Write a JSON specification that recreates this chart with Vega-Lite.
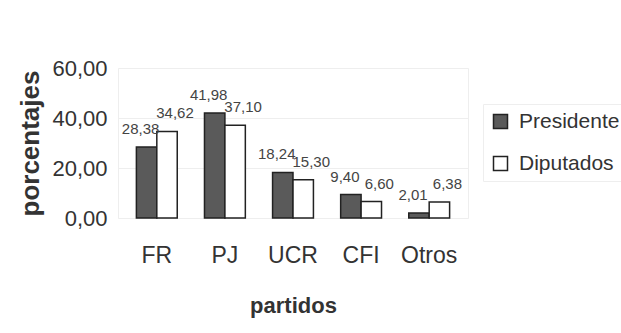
{
  "$schema": "https://vega.github.io/schema/vega-lite/v6.json",
  "width": 350,
  "height": 150,
  "autosize": "none",
  "padding": {"left": 118, "top": 68, "right": 153, "bottom": 115},
  "background": "white",
  "config": {
    "locale": {"number": {"decimal": ",", "thousands": ".", "grouping": [3], "currency": ["", ""]}},
    "font": "Liberation Sans",
    "view": {"stroke": "#eeeeee"}
  },
  "data": {
    "values": [
      {"partido": "FR", "serie": "Presidente", "valor": 28.38},
      {"partido": "FR", "serie": "Diputados", "valor": 34.62},
      {"partido": "PJ", "serie": "Presidente", "valor": 41.98},
      {"partido": "PJ", "serie": "Diputados", "valor": 37.10},
      {"partido": "UCR", "serie": "Presidente", "valor": 18.24},
      {"partido": "UCR", "serie": "Diputados", "valor": 15.30},
      {"partido": "CFI", "serie": "Presidente", "valor": 9.40},
      {"partido": "CFI", "serie": "Diputados", "valor": 6.60},
      {"partido": "Otros", "serie": "Presidente", "valor": 2.01},
      {"partido": "Otros", "serie": "Diputados", "valor": 6.38}
    ]
  },
  "encoding": {
    "x": {
      "field": "partido", "type": "nominal", "sort": null,
      "scale": {"paddingInner": 0.4, "paddingOuter": 0.27},
      "axis": {
        "title": "partidos", "labelAngle": 0, "labelFontSize": 23, "labelColor": "#333",
        "labelPadding": 26, "ticks": false, "domain": false,
        "titleFontSize": 22, "titleFontWeight": "bold", "titleColor": "#333",
        "titleBaseline": "alphabetic", "titleY": 94
      }
    },
    "xOffset": {"field": "serie", "type": "nominal", "sort": ["Presidente", "Diputados"]},
    "y": {
      "field": "valor", "type": "quantitative",
      "scale": {"domain": [0, 60]},
      "axis": {
        "title": "porcentajes", "values": [0, 20, 40, 60], "format": ".2f",
        "labelFontSize": 22, "labelColor": "#333", "labelPadding": 11,
        "ticks": false, "domain": false, "gridColor": "#eeeeee",
        "titleFontSize": 26, "titleFontWeight": "bold", "titleColor": "#333",
        "titleBaseline": "middle", "titleX": -88
      }
    }
  },
  "layer": [
    {
      "mark": {"type": "bar", "stroke": "#222", "strokeWidth": 1.5},
      "encoding": {
        "fill": {
          "field": "serie", "type": "nominal", "sort": ["Presidente", "Diputados"],
          "scale": {"domain": ["Presidente", "Diputados"], "range": ["#5a5a5a", "#ffffff"]},
          "legend": {
            "title": null, "orient": "none", "legendX": 365, "legendY": 36,
            "symbolType": "square", "symbolSize": 196, "symbolStrokeColor": "#222",
            "symbolStrokeWidth": 1.5, "labelFontSize": 21, "labelColor": "#333",
            "labelOffset": 8, "rowPadding": 20, "strokeColor": "#eeeeee", "padding": 7
          }
        }
      }
    },
    {
      "transform": [{"filter": "datum.serie === 'Presidente'"}],
      "mark": {"type": "text", "baseline": "bottom", "dy": -10, "dx": -6, "fontSize": 15, "color": "#444"},
      "encoding": {
        "text": {"field": "valor", "type": "quantitative", "format": ".2f"}
      }
    },
    {
      "transform": [{"filter": "datum.serie === 'Diputados'"}],
      "mark": {"type": "text", "baseline": "bottom", "dy": -10, "dx": 8, "fontSize": 15, "color": "#444"},
      "encoding": {
        "text": {"field": "valor", "type": "quantitative", "format": ".2f"}
      }
    }
  ]
}
